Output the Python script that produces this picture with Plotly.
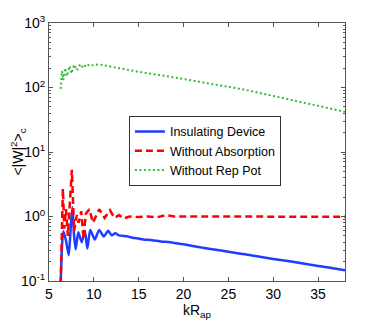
import plotly.graph_objects as go

# values
kr_ins = [6.3, 6.45, 6.6, 6.9, 7.2, 7.4, 7.6, 7.8, 7.97, 8.27, 8.64, 9.0, 9.27, 9.6, 10.1, 10.6,
          11.1, 11.6, 12.0, 12.4, 12.8, 13.3, 13.8, 14.3, 14.8, 15.5, 16.5, 17.5, 18.5, 20, 22, 24,
          26, 28, 30, 32, 34, 36, 38]
w_ins = [0.09, 0.35, 0.59, 0.42, 0.25, 0.6, 1.39, 0.5, 0.31, 0.57, 0.4, 0.6, 0.32, 0.62, 0.44, 0.62,
         0.49, 0.6, 0.51, 0.55, 0.51, 0.5, 0.49, 0.47, 0.46, 0.44, 0.43, 0.41, 0.4, 0.37, 0.33, 0.30,
         0.27, 0.245, 0.22, 0.2, 0.18, 0.163, 0.147]

kr_abs = [6.3, 6.45, 6.55, 6.7, 6.9, 7.1, 7.3, 7.55, 7.8, 8.1, 8.3, 8.6, 8.85, 9.1, 9.5, 9.9,
          10.6, 11.2, 11.8, 12.3, 12.8, 13.3, 14, 15, 16, 17, 18, 19, 22, 26, 30, 34, 38]
w_abs = [0.09, 0.5, 2.7, 0.65, 1.3, 0.5, 1.25, 5.3, 0.6, 1.05, 0.8, 1.2, 0.45, 1.1, 1.3, 0.8,
         1.3, 0.95, 1.25, 0.95, 1.05, 0.93, 1.0, 0.98, 1.0, 0.97, 1.05, 1.0, 1.0, 1.0, 1.0, 0.99, 0.99]

kr_rep = [6.3, 6.45, 6.6, 6.8, 7.0, 7.3, 7.5, 7.8, 8.1, 8.5, 8.8, 9.2, 9.6, 10.0, 10.6, 11.8,
          13, 15, 18.9, 20, 22, 24, 26.7, 30, 32, 35, 38]
w_rep = [95, 180, 130, 200, 150, 215, 165, 225, 185, 230, 200, 230, 215, 225, 228, 213,
         195, 175, 144, 135, 121, 108, 93, 74, 64, 52, 42]

y_ticks = [0.1, 1, 10, 100, 1000]
y_ticktext = ["10<sup>-1</sup>", "10<sup>0</sup>", "10<sup>1</sup>", "10<sup>2</sup>", "10<sup>3</sup>"]

fnt = "Liberation Sans, Arial"

fig = go.Figure()
fig.add_trace(go.Scatter(x=kr_ins, y=w_ins, mode="lines", name="Insulating Device",
                         line=dict(color="#1f3dff", width=2.5, shape="spline", smoothing=0.6)))
fig.add_trace(go.Scatter(x=kr_abs, y=w_abs, mode="lines", name="Without Absorption",
                         line=dict(color="#ff0000", width=2.5, dash="7px,4px")))
fig.add_trace(go.Scatter(x=kr_rep, y=w_rep, mode="lines", name="Without Rep Pot",
                         line=dict(color="#33bb33", width=2, dash="2px,2.5px")))

axis_style = dict(showline=True, linecolor="#555555", linewidth=1, mirror="ticks",
                  ticks="inside", ticklen=4, tickcolor="#555555", showgrid=False, zeroline=False,
                  automargin=False,
                  tickfont=dict(family=fnt, size=14, color="black"))

fig.update_xaxes(range=[5, 38], dtick=5, tick0=5,
                 title=dict(text="kR<sub>ap</sub>", standoff=0,
                            font=dict(family=fnt, size=14, color="black")),
                 **axis_style)
fig.update_yaxes(type="log", range=[-1, 3], tickvals=y_ticks, ticktext=y_ticktext,
                 minor=dict(ticks="inside", ticklen=2, tickcolor="#555555",
                            tickvals=[v * m for v in [0.1, 1, 10, 100] for m in range(2, 10)]),
                 title=dict(text="<|W|<sup>2</sup>><sub>c</sub>", standoff=4,
                            font=dict(family=fnt, size=14, color="black")),
                 **axis_style)

# page body has an 8px margin, so the figure is a bit smaller than the window
fig.update_layout(
    width=374, height=319,
    margin=dict(l=41, r=37, t=15, b=46),
    paper_bgcolor="white", plot_bgcolor="white",
    legend=dict(x=0.27, y=0.64, xanchor="left", yanchor="top",
                bgcolor="white", bordercolor="#333333", borderwidth=1,
                font=dict(family=fnt, size=12.5, color="black"),
                tracegroupgap=0, itemwidth=30),
)

fig.write_html("out.html")
